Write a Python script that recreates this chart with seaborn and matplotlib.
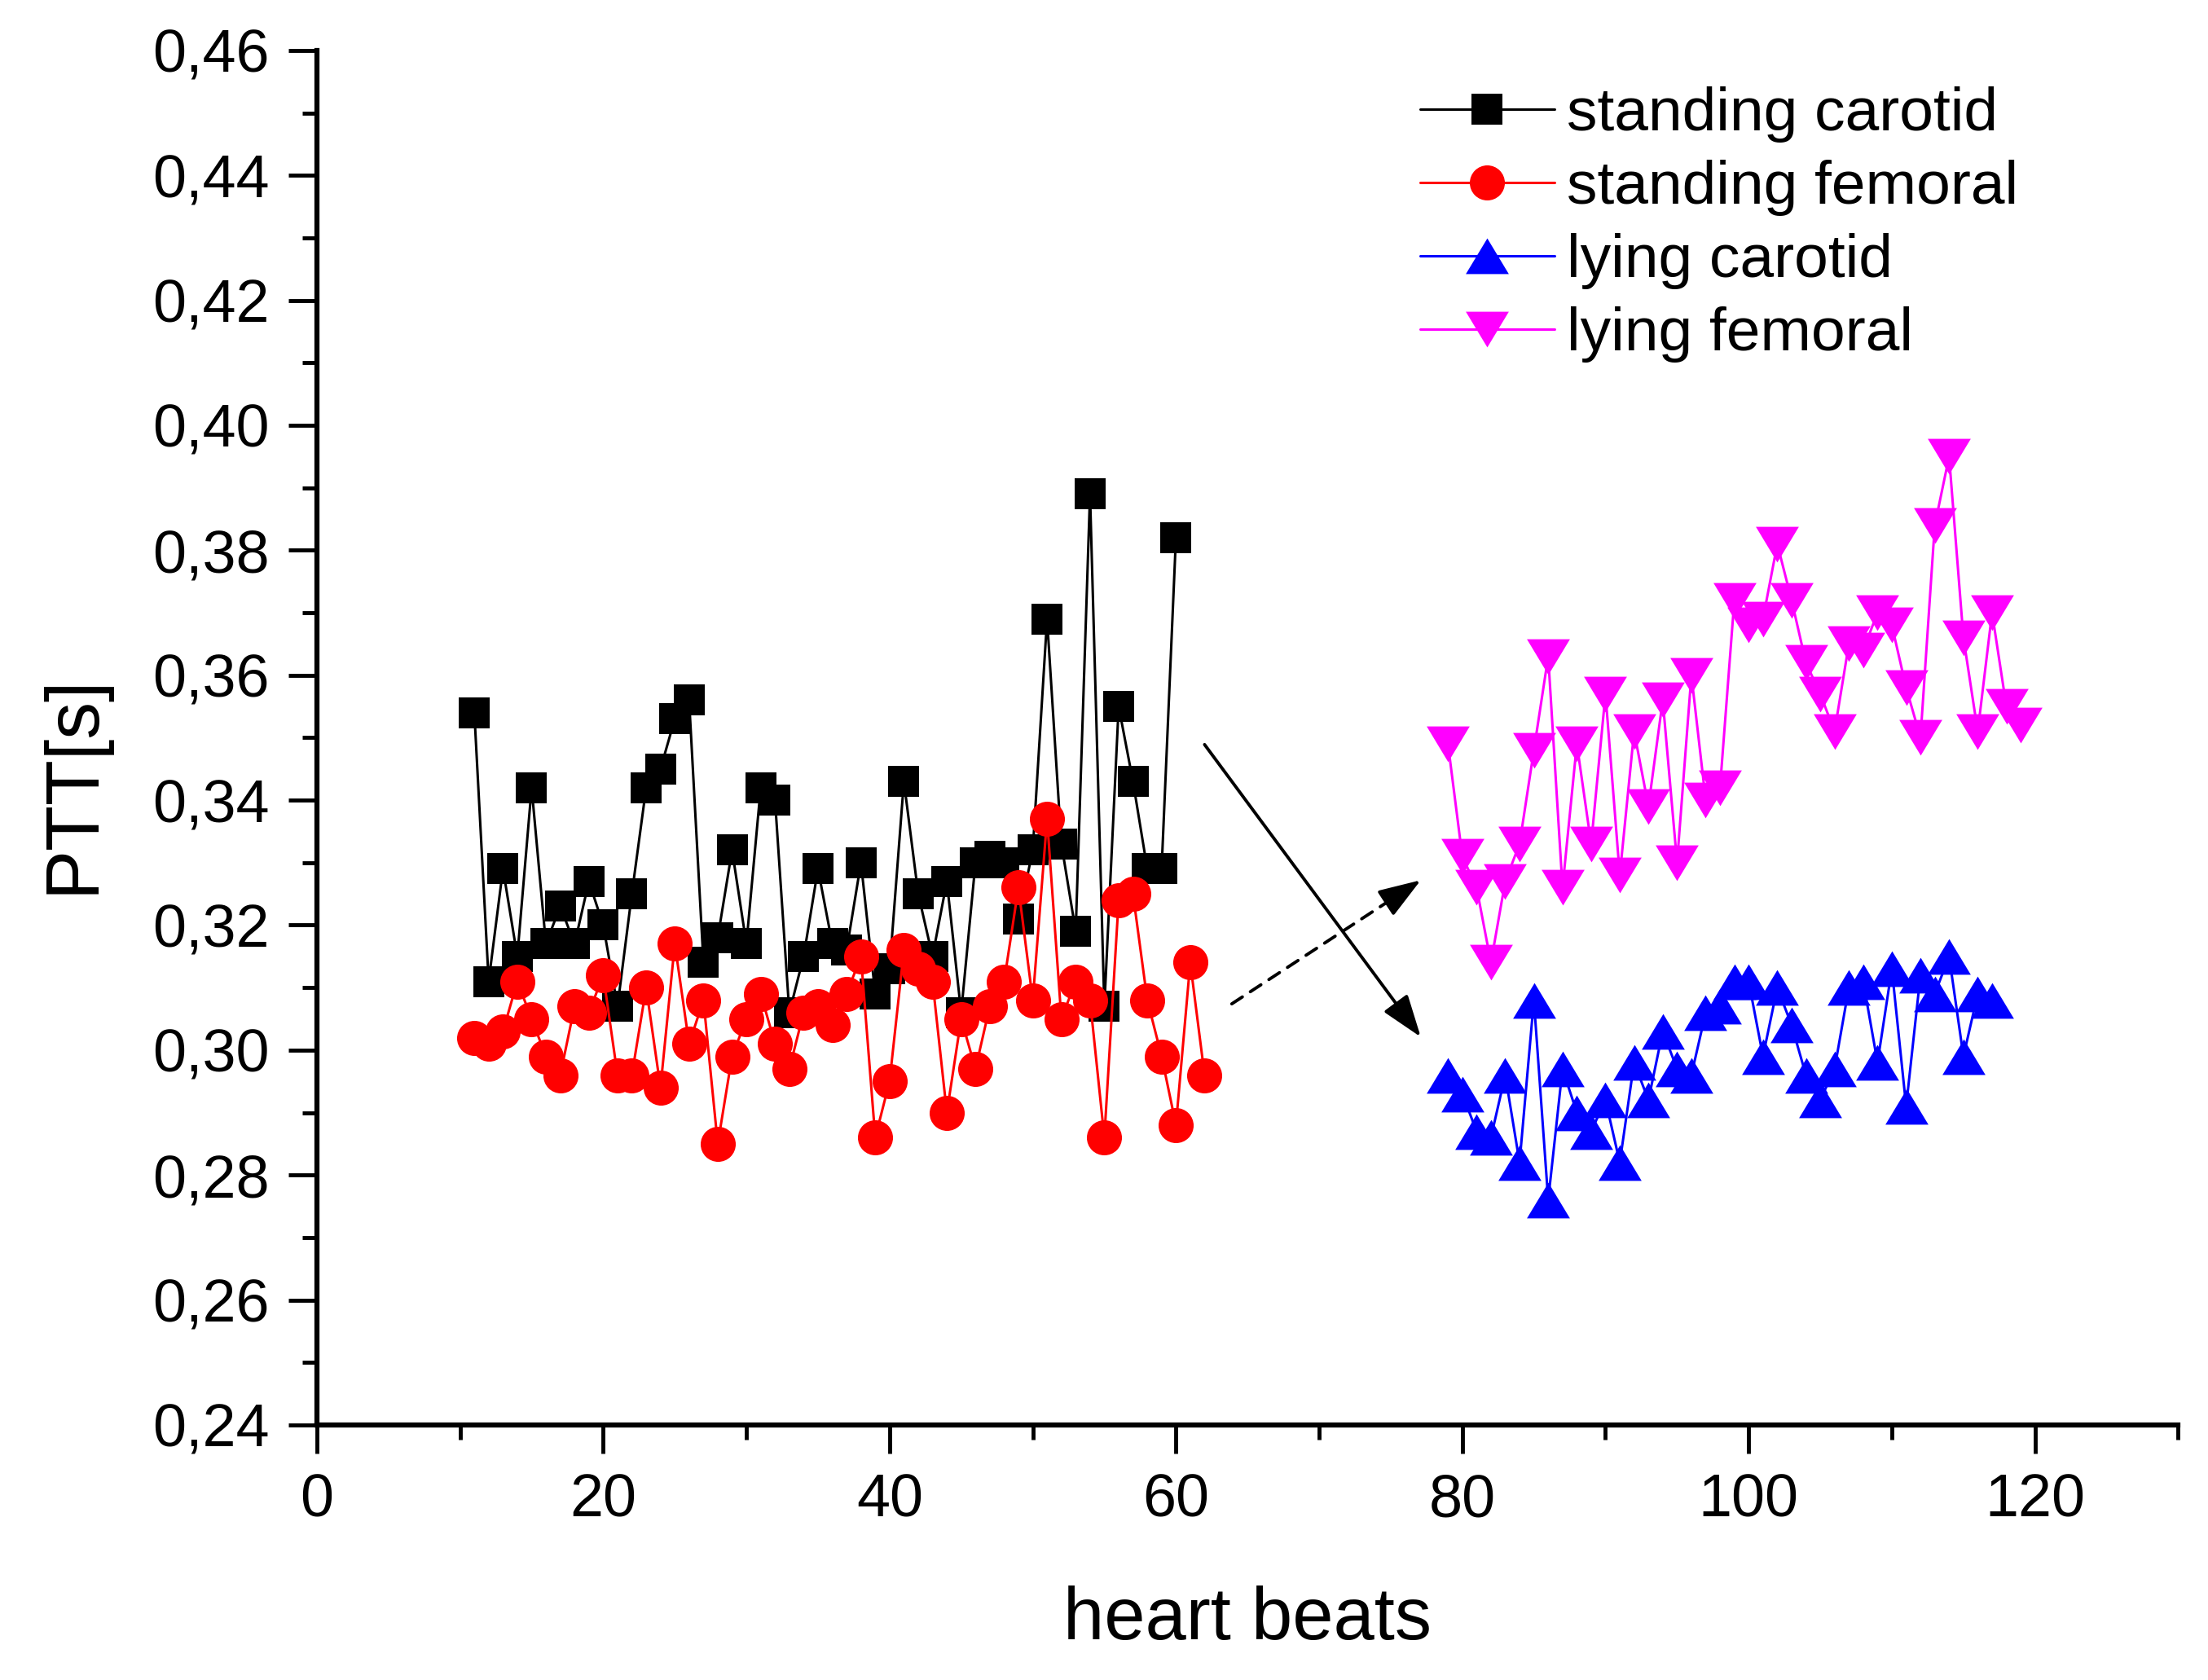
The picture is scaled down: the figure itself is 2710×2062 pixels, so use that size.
import numpy as np
import pandas as pd
import matplotlib
matplotlib.use('Agg')
import matplotlib.pyplot as plt
from matplotlib.ticker import MultipleLocator, FuncFormatter
import seaborn as sns

# ------------------Data------------------
stand_carotid_x = list(range(11, 61))
stand_carotid = [0.354, 0.311, 0.329, 0.315, 0.342, 0.317, 0.323, 0.317, 0.327, 0.320,
                 0.307, 0.325, 0.342, 0.345, 0.353, 0.356, 0.314, 0.318, 0.332, 0.317,
                 0.342, 0.340, 0.306, 0.315, 0.329, 0.317, 0.316, 0.330, 0.309, 0.313,
                 0.343, 0.325, 0.315, 0.327, 0.306, 0.330, 0.331, 0.330, 0.321, 0.332,
                 0.369, 0.333, 0.319, 0.389, 0.307, 0.355, 0.343, 0.329, 0.329, 0.382]

stand_femoral_x = list(range(11, 63))
stand_femoral = [0.302, 0.301, 0.303, 0.311, 0.305, 0.299, 0.296, 0.307, 0.306, 0.312,
                 0.296, 0.296, 0.310, 0.294, 0.317, 0.301, 0.308, 0.285, 0.299, 0.305,
                 0.309, 0.301, 0.297, 0.306, 0.307, 0.304, 0.309, 0.315, 0.286, 0.295,
                 0.316, 0.313, 0.311, 0.290, 0.305, 0.297, 0.307, 0.311, 0.326, 0.308,
                 0.337, 0.305, 0.311, 0.308, 0.286, 0.324, 0.325, 0.308, 0.299, 0.288,
                 0.314, 0.296]

lying_carotid_x = list(range(79, 118))
lying_carotid = [0.296, 0.293, 0.287, 0.286, 0.296, 0.282, 0.308, 0.276, 0.297, 0.290,
                 0.287, 0.292, 0.282, 0.298, 0.292, 0.303, 0.297, 0.296, 0.306, 0.307,
                 0.311, 0.311, 0.299, 0.310, 0.304, 0.296, 0.292, 0.297, 0.310, 0.311,
                 0.298, 0.313, 0.291, 0.312, 0.309, 0.315, 0.299, 0.309, 0.308]

lying_femoral_x = list(range(79, 120))
lying_femoral = [0.349, 0.331, 0.326, 0.314, 0.327, 0.333, 0.348, 0.363, 0.326, 0.349,
                 0.333, 0.357, 0.328, 0.351, 0.339, 0.356, 0.330, 0.360, 0.340, 0.342,
                 0.372, 0.368, 0.369, 0.381, 0.372, 0.362, 0.357, 0.351, 0.365, 0.364,
                 0.370, 0.368, 0.358, 0.350, 0.384, 0.395, 0.366, 0.351, 0.370, 0.355,
                 0.352]

# arrow end points (data coords)
solid_arrow = ((62.0, 0.3489), (77.1, 0.3021))
dashed_arrow = ((63.9, 0.3074), (77.1, 0.3272))

# ------------------Styling------------------
sns.set_style('ticks', {'axes.edgecolor': 'black', 'text.color': 'black',
                        'axes.labelcolor': 'black', 'xtick.color': 'black',
                        'ytick.color': 'black'})
plt.rcParams['font.family'] = ['Liberation Sans', 'DejaVu Sans']

fig = plt.figure(figsize=(27.1, 20.62), dpi=100)
ax = fig.add_axes([0.1435, 0.1518, 0.8430, 0.8182])

# Origin style triangles: a bit wider than tall
tri_up = [(-1, -0.83), (1, -0.83), (0, 0.83)]
tri_down = [(x, -y) for x, y in tri_up]

series = [
    ('standing carotid', stand_carotid_x, stand_carotid, 'black', 's', 28),
    ('standing femoral', stand_femoral_x, stand_femoral, 'red', 'o', 31),
    ('lying carotid', lying_carotid_x, lying_carotid, 'blue', tri_up, 38),
    ('lying femoral', lying_femoral_x, lying_femoral, 'magenta', tri_down, 38),
]

for name, xs, ys, col, mk, ms in series:
    df = pd.DataFrame({'beat': xs, 'ptt': ys})
    sns.lineplot(data=df, x='beat', y='ptt', ax=ax, color=col, marker=mk,
                 markersize=ms, markeredgewidth=0, linewidth=2.2,
                 estimator=None, sort=False, label=name)

# arrows
head = '-|>,head_length=0.4,head_width=0.14'
(sx, sy), (ex, ey) = solid_arrow
ax.annotate('', xy=(ex, ey), xytext=(sx, sy),
            arrowprops=dict(arrowstyle=head, color='black', lw=2.8,
                            mutation_scale=80, shrinkA=0, shrinkB=0))
(sx, sy), (ex, ey) = dashed_arrow
# dashed shaft, then a solid head so the head outline stays clean
ax.annotate('', xy=(ex - 0.1 * (ex - sx), ey - 0.1 * (ey - sy)), xytext=(sx, sy),
            arrowprops=dict(arrowstyle='-', color='black', lw=2.8, linestyle=(0, (4, 3)),
                            shrinkA=0, shrinkB=0))
ax.annotate('', xy=(ex, ey), xytext=(ex - 0.15 * (ex - sx), ey - 0.15 * (ey - sy)),
            arrowprops=dict(arrowstyle=head, color='black', lw=2.8,
                            mutation_scale=80, shrinkA=0, shrinkB=0))

ax.set_xlim(0, 130)
ax.set_ylim(0.24, 0.46)
ax.xaxis.set_major_locator(MultipleLocator(20))
ax.xaxis.set_minor_locator(MultipleLocator(10))
ax.yaxis.set_major_locator(MultipleLocator(0.02))
ax.yaxis.set_minor_locator(MultipleLocator(0.01))
ax.yaxis.set_major_formatter(FuncFormatter(lambda v, p: f'{v:.2f}'.replace('.', ',')))
ax.tick_params(which='major', direction='out', length=25, width=3.5, labelsize=53, pad=17)
ax.tick_params(which='minor', direction='out', length=13, width=3.5)

sns.despine(ax=ax)
for s in ['left', 'bottom']:
    ax.spines[s].set_linewidth(4.5)

ax.set_xlabel('heart beats', fontsize=65, labelpad=50)
ax.set_ylabel('PTT[s]', fontsize=66)
ax.yaxis.set_label_coords(-0.112, 0.466)

ax.legend(loc='upper left', bbox_to_anchor=(0.632, 0.963), bbox_transform=fig.transFigure,
          frameon=False, fontsize=54, numpoints=1, handlelength=2.2, handletextpad=0.2,
          labelspacing=0.28, borderaxespad=0)

fig.savefig('out.png', dpi=100)
